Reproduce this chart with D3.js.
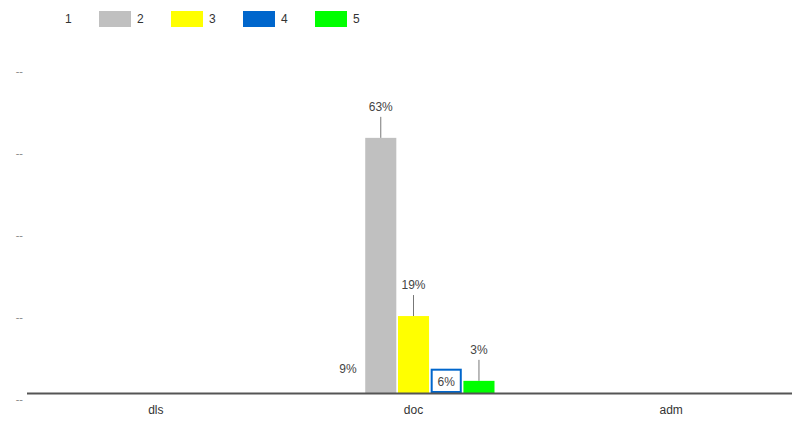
<!DOCTYPE html>
<html><head><meta charset="utf-8">
<script src="https://cdn.jsdelivr.net/npm/d3@7/dist/d3.min.js"></script>
<style>body{margin:0;background:#fff}svg{display:block;font-family:Arial,"Liberation Sans",sans-serif}</style>
</head><body><svg id="c" width="792" height="423"></svg>
<script>
const categories = ["dls", "doc", "adm"];
const seriesNames = ["1", "2", "3", "4", "5"];
const seriesColors = ["#ffffff", "#c0c0c0", "#ffff00", "#0066cc", "#00ff00"];
// values per series (percent) for categories dls, doc, adm
const seriesValues = [
  [null, 9, null],
  [null, 63, null],
  [null, 19, null],
  [null, 6, null],
  [null, 3, null]
];
const labelMode = ["inside", "leader", "leader", "boxed", "leader"];
const yTicks = [0, 20, 40, 60, 80];
const yTickLabels = ["--", "--", "--", "--", "--"];

const svg = d3.select("#c");
const x0 = d3.scaleBand().domain(categories).range([27, 800]);
const x1 = d3.scaleBand().domain(seriesNames).range([-81, 81]).paddingInner(0.05);
const y = d3.scaleLinear().domain([0, 80]).range([393, 69]);
const yLab = y.copy().range([399, 70.5]);

// y tick labels
const yAxis = d3.axisLeft(yLab).tickValues(yTicks).tickFormat((d, i) => yTickLabels[i]).tickSize(0).tickPadding(0);
const ya = svg.append("g").attr("transform", "translate(23,0)").call(yAxis);
ya.select(".domain").remove();
ya.selectAll("text").attr("fill", "#888").attr("font-size", 11).attr("font-family", "Arial");

// bars
const data = [];
seriesNames.forEach((s, si) => categories.forEach((c, ci) => {
  const v = seriesValues[si][ci];
  if (v != null) data.push({s, si, c, v});
}));
const g = svg.append("g");
g.selectAll("rect.bar").data(data).join("rect").attr("class", "bar")
  .attr("x", d => x0(d.c) + x0.bandwidth() / 2 + x1(d.s))
  .attr("width", x1.bandwidth())
  .attr("y", d => y(d.v))
  .attr("height", d => y(0) - y(d.v))
  .attr("fill", d => seriesColors[d.si]);

// x axis baseline & labels
const xAxis = d3.axisBottom(x0).tickSize(0).tickPadding(12);
const xa = svg.append("g").attr("transform", `translate(0,${y(0)})`).call(xAxis);
xa.select(".domain").attr("stroke", "#555").attr("stroke-width", 2).attr("d", "M27,0.5H792");
xa.selectAll("text").attr("fill", "#333").attr("font-size", 12).attr("font-family", "Arial");

// value labels
data.forEach(d => {
  const cx = x0(d.c) + x0.bandwidth() / 2 + x1(d.s) + x1.bandwidth() / 2;
  const top = y(d.v);
  const mode = labelMode[d.si];
  const txt = d.v + "%";
  if (mode === "leader") {
    g.append("line").attr("x1", cx).attr("x2", cx).attr("y1", top - 21).attr("y2", top)
      .attr("stroke", "#777").attr("stroke-width", 1);
    g.append("text").attr("x", cx).attr("y", top - 27).attr("text-anchor", "middle")
      .attr("font-size", 12).attr("fill", "#444").text(txt);
  } else if (mode === "boxed") {
    const bw = x1.bandwidth();
    g.append("rect").attr("x", cx - bw / 2 + 2).attr("y", top + 2).attr("width", bw - 4).attr("height", y(0) - top - 4)
      .attr("fill", "#fff");
    g.append("text").attr("x", cx).attr("y", top + 17).attr("text-anchor", "middle")
      .attr("font-size", 12).attr("fill", "#444").text(txt);
  } else {
    g.append("text").attr("x", cx).attr("y", top + 16).attr("text-anchor", "middle")
      .attr("font-size", 12).attr("fill", "#444").text(txt);
  }
});

// legend
const lg = svg.append("g");
seriesNames.forEach((s, i) => {
  const lx = 27 + i * 72;
  lg.append("rect").attr("x", lx).attr("y", 11).attr("width", 32).attr("height", 16).attr("fill", seriesColors[i]);
  lg.append("text").attr("x", lx + 38).attr("y", 23).attr("font-size", 12).attr("fill", "#333").text(s);
});
</script></body></html>
